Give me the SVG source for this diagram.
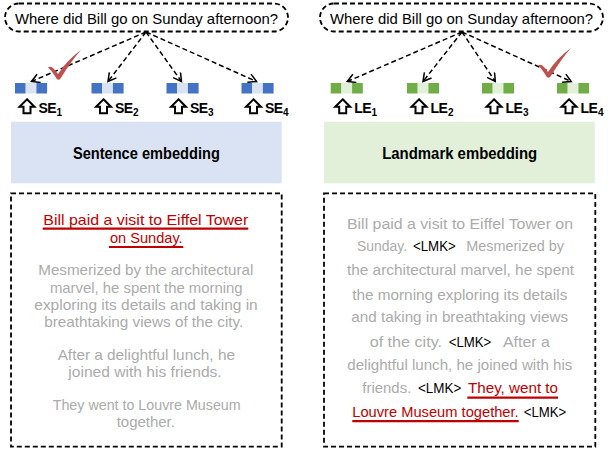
<svg xmlns="http://www.w3.org/2000/svg" xmlns:xlink="http://www.w3.org/1999/xlink" width="608" height="466" viewBox="0 0 608 466">
<style>
.q{font-family:"Liberation Sans",Arial,sans-serif;font-size:15px;fill:#000}
.lab{font-family:"Liberation Sans",Arial,sans-serif;font-size:14px;font-weight:bold;fill:#000;letter-spacing:-0.6px}
.sub{font-size:10px;letter-spacing:0}
.emb{font-family:"Liberation Sans",Arial,sans-serif;font-size:16.5px;font-weight:bold;fill:#000}
.t{font-family:"Liberation Sans",Arial,sans-serif;font-size:15px;fill:#ababab}
.red{fill:#c00000}
.blk{fill:#000}
.dash{fill:none;stroke:#000;stroke-width:1.8;stroke-dasharray:5 3}
.conn{fill:none;stroke:#000;stroke-width:1.5;stroke-dasharray:5 3}
.ul{stroke:#c00000;stroke-width:2.2}
.up{fill:#fff;stroke:#000;stroke-width:2;stroke-linejoin:miter}
.bd{fill:#4472c4}.bl{fill:#dae3f3}
.gd{fill:#70ad47}.gl{fill:#e2f0d9}
.chk{fill:#c0504d}
</style>
<defs>
<marker id="ah" markerWidth="12" markerHeight="12" refX="9" refY="5" orient="auto" markerUnits="userSpaceOnUse">
<path d="M1,0.5 L9,5 L1,9.5" fill="none" stroke="#000" stroke-width="1.5" stroke-dasharray="none"/>
</marker>
<path id="uparrow" d="M7.5,0 L15,7.5 L11,7.5 L11,14 L4,14 L4,7.5 L0,7.5 Z"/>
<path id="check" d="M48,67.5 Q51,65.5 54,69 L58,74 Q67,60 81,50 Q72,60 60.5,78.5 Q58.5,81 56.5,78.5 Q52,71 48,67.5 Z"/>
</defs>

<!-- Left panel -->
<g id="query-left">
<rect x="5" y="3.5" width="283" height="28" rx="14" class="dash"/>
<text x="146.5" y="24" text-anchor="middle" class="q" textLength="263" lengthAdjust="spacingAndGlyphs">Where did Bill go on Sunday afternoon?</text>
</g>

<g id="connectors">
<path class="conn" d="M146,32 L31.5,81.5" marker-end="url(#ah)"/>
<path class="conn" d="M146,32 L108,81.5" marker-end="url(#ah)"/>
<path class="conn" d="M146,32 L181.5,81.5" marker-end="url(#ah)"/>
<path class="conn" d="M146,32 L256.5,81.5" marker-end="url(#ah)"/>
<path class="conn" d="M462,32 L347.3,81.5" marker-end="url(#ah)"/>
<path class="conn" d="M462,32 L423,81.5" marker-end="url(#ah)"/>
<path class="conn" d="M462,32 L495.3,81.5" marker-end="url(#ah)"/>
<path class="conn" d="M462,32 L571.3,81.5" marker-end="url(#ah)"/>
</g>

<g id="check-left"><use xlink:href="#check" class="chk"/></g>

<g id="SE1">
<rect x="15" y="83" width="10.7" height="10.5" class="bd"/><rect x="25.7" y="83" width="10.7" height="10.5" class="bl"/><rect x="36.4" y="83" width="10.7" height="10.5" class="bd"/>
<use xlink:href="#uparrow" x="19.5" y="99.3" class="up"/>
<text x="38.5" y="112.8" class="lab">SE<tspan class="sub" dx="0.6" dy="2.7">1</tspan></text>
</g>
<g id="SE2">
<rect x="91.5" y="83" width="10.7" height="10.5" class="bd"/><rect x="102.2" y="83" width="10.7" height="10.5" class="bl"/><rect x="112.9" y="83" width="10.7" height="10.5" class="bd"/>
<use xlink:href="#uparrow" x="96" y="99.3" class="up"/>
<text x="115" y="112.8" class="lab">SE<tspan class="sub" dx="0.6" dy="2.7">2</tspan></text>
</g>
<g id="SE3">
<rect x="166.5" y="83" width="10.7" height="10.5" class="bd"/><rect x="177.2" y="83" width="10.7" height="10.5" class="bl"/><rect x="187.9" y="83" width="10.7" height="10.5" class="bd"/>
<use xlink:href="#uparrow" x="171" y="99.3" class="up"/>
<text x="190" y="112.8" class="lab">SE<tspan class="sub" dx="0.6" dy="2.7">3</tspan></text>
</g>
<g id="SE4">
<rect x="241.5" y="83" width="10.7" height="10.5" class="bd"/><rect x="252.2" y="83" width="10.7" height="10.5" class="bl"/><rect x="262.9" y="83" width="10.7" height="10.5" class="bd"/>
<use xlink:href="#uparrow" x="246" y="99.3" class="up"/>
<text x="265" y="112.8" class="lab">SE<tspan class="sub" dx="0.6" dy="2.7">4</tspan></text>
</g>

<g id="sentence-embedding">
<rect x="11" y="121.7" width="270.7" height="61.6" fill="#dae3f3"/>
<text x="146.4" y="159.3" text-anchor="middle" class="emb" textLength="147" lengthAdjust="spacingAndGlyphs">Sentence embedding</text>
</g>

<g id="doc-left">
<rect x="11" y="193.3" width="270.7" height="253.4" class="dash"/>
<text x="145.8" y="225" text-anchor="middle" class="t red" textLength="205" lengthAdjust="spacingAndGlyphs">Bill paid a visit to Eiffel Tower</text>
<line x1="42.7" y1="228.6" x2="248.3" y2="228.6" class="ul"/>
<text x="146.3" y="243.3" text-anchor="middle" class="t red" textLength="72.7" lengthAdjust="spacingAndGlyphs">on Sunday.</text>
<line x1="109" y1="247" x2="183.3" y2="247" class="ul"/>
<text x="145.8" y="275" text-anchor="middle" class="t" textLength="215" lengthAdjust="spacingAndGlyphs">Mesmerized by the architectural</text>
<text x="146.3" y="292.7" text-anchor="middle" class="t" textLength="192.7" lengthAdjust="spacingAndGlyphs">marvel, he spent the morning</text>
<text x="146" y="310" text-anchor="middle" class="t" textLength="223.4" lengthAdjust="spacingAndGlyphs">exploring its details and taking in</text>
<text x="143.8" y="327.3" text-anchor="middle" class="t" textLength="199" lengthAdjust="spacingAndGlyphs">breathtaking views of the city.</text>
<text x="146.3" y="360" text-anchor="middle" class="t" textLength="177.3" lengthAdjust="spacingAndGlyphs">After a delightful lunch, he</text>
<text x="145" y="377.3" text-anchor="middle" class="t" textLength="153.4" lengthAdjust="spacingAndGlyphs">joined with his friends.</text>
<text x="146.7" y="410" text-anchor="middle" class="t" textLength="188" lengthAdjust="spacingAndGlyphs">They went to Louvre Museum</text>
<text x="145.8" y="426.7" text-anchor="middle" class="t" textLength="58.3" lengthAdjust="spacingAndGlyphs">together.</text>
</g>

<!-- Right panel -->
<g id="query-right">
<rect x="320" y="3.5" width="283" height="28" rx="14" class="dash"/>
<text x="461.5" y="24" text-anchor="middle" class="q" textLength="263" lengthAdjust="spacingAndGlyphs">Where did Bill go on Sunday afternoon?</text>
</g>

<g id="LE1">
<rect x="330.7" y="83" width="10.7" height="10.5" class="gd"/><rect x="341.4" y="83" width="10.7" height="10.5" class="gl"/><rect x="352.1" y="83" width="10.7" height="10.5" class="gd"/>
<use xlink:href="#uparrow" x="335.2" y="99.3" class="up"/>
<text x="354.3" y="112.8" class="lab">LE<tspan class="sub" dx="0.6" dy="2.7">1</tspan></text>
</g>
<g id="LE2">
<rect x="407" y="83" width="10.7" height="10.5" class="gd"/><rect x="417.7" y="83" width="10.7" height="10.5" class="gl"/><rect x="428.4" y="83" width="10.7" height="10.5" class="gd"/>
<use xlink:href="#uparrow" x="411.5" y="99.3" class="up"/>
<text x="430.6" y="112.8" class="lab">LE<tspan class="sub" dx="0.6" dy="2.7">2</tspan></text>
</g>
<g id="LE3">
<rect x="482" y="83" width="10.7" height="10.5" class="gd"/><rect x="492.7" y="83" width="10.7" height="10.5" class="gl"/><rect x="503.4" y="83" width="10.7" height="10.5" class="gd"/>
<use xlink:href="#uparrow" x="486.5" y="99.3" class="up"/>
<text x="505.6" y="112.8" class="lab">LE<tspan class="sub" dx="0.6" dy="2.7">3</tspan></text>
</g>
<g id="LE4">
<rect x="557" y="83" width="10.7" height="10.5" class="gd"/><rect x="567.7" y="83" width="10.7" height="10.5" class="gl"/><rect x="578.4" y="83" width="10.7" height="10.5" class="gd"/>
<use xlink:href="#uparrow" x="561.5" y="99.3" class="up"/>
<text x="580.6" y="112.8" class="lab">LE<tspan class="sub" dx="0.6" dy="2.7">4</tspan></text>
</g>

<g id="check-right"><use xlink:href="#check" class="chk" transform="translate(490,-2)"/></g>

<g id="landmark-embedding">
<rect x="324" y="121.7" width="270.7" height="61.6" fill="#e2f0d9"/>
<text x="459.7" y="159.3" text-anchor="middle" class="emb" textLength="155" lengthAdjust="spacingAndGlyphs">Landmark embedding</text>
</g>

<g id="doc-right">
<rect x="324" y="193.3" width="271.3" height="253.4" class="dash"/>
<text x="347" y="229.3" class="t" textLength="226" lengthAdjust="spacingAndGlyphs">Bill paid a visit to Eiffel Tower on</text>
<text x="357" y="251" class="t" textLength="50" lengthAdjust="spacingAndGlyphs">Sunday.</text>
<text x="413" y="251" class="t blk" textLength="42.7" lengthAdjust="spacingAndGlyphs">&lt;LMK&gt;</text>
<text x="466.3" y="251" class="t" textLength="97.7" lengthAdjust="spacingAndGlyphs">Mesmerized by</text>
<text x="347" y="275" class="t" textLength="227" lengthAdjust="spacingAndGlyphs">the architectural marvel, he spent</text>
<text x="352.3" y="300" class="t" textLength="215" lengthAdjust="spacingAndGlyphs">the morning exploring its details</text>
<text x="351.3" y="321.7" class="t" textLength="216.7" lengthAdjust="spacingAndGlyphs">and taking in breathtaking views</text>
<text x="369.7" y="346.7" class="t" textLength="72.3" lengthAdjust="spacingAndGlyphs">of the city.</text>
<text x="448.7" y="346.7" class="t blk" textLength="42.6" lengthAdjust="spacingAndGlyphs">&lt;LMK&gt;</text>
<text x="503" y="346.7" class="t" textLength="46.7" lengthAdjust="spacingAndGlyphs">After a</text>
<text x="347.3" y="370" class="t" textLength="225" lengthAdjust="spacingAndGlyphs">delightful lunch, he joined with his</text>
<text x="362.3" y="393.3" class="t" textLength="49" lengthAdjust="spacingAndGlyphs">friends.</text>
<text x="418" y="393.3" class="t blk" textLength="43.3" lengthAdjust="spacingAndGlyphs">&lt;LMK&gt;</text>
<text x="468" y="393.3" class="t red" textLength="90" lengthAdjust="spacingAndGlyphs">They, went to</text>
<line x1="467.3" y1="397.6" x2="558" y2="397.6" class="ul"/>
<text x="352.3" y="417.3" class="t red" textLength="166.4" lengthAdjust="spacingAndGlyphs">Louvre Museum together.</text>
<line x1="352.3" y1="421.2" x2="518.7" y2="421.2" class="ul"/>
<text x="523.7" y="417.3" class="t blk" textLength="42.6" lengthAdjust="spacingAndGlyphs">&lt;LMK&gt;</text>
</g>
</svg>
